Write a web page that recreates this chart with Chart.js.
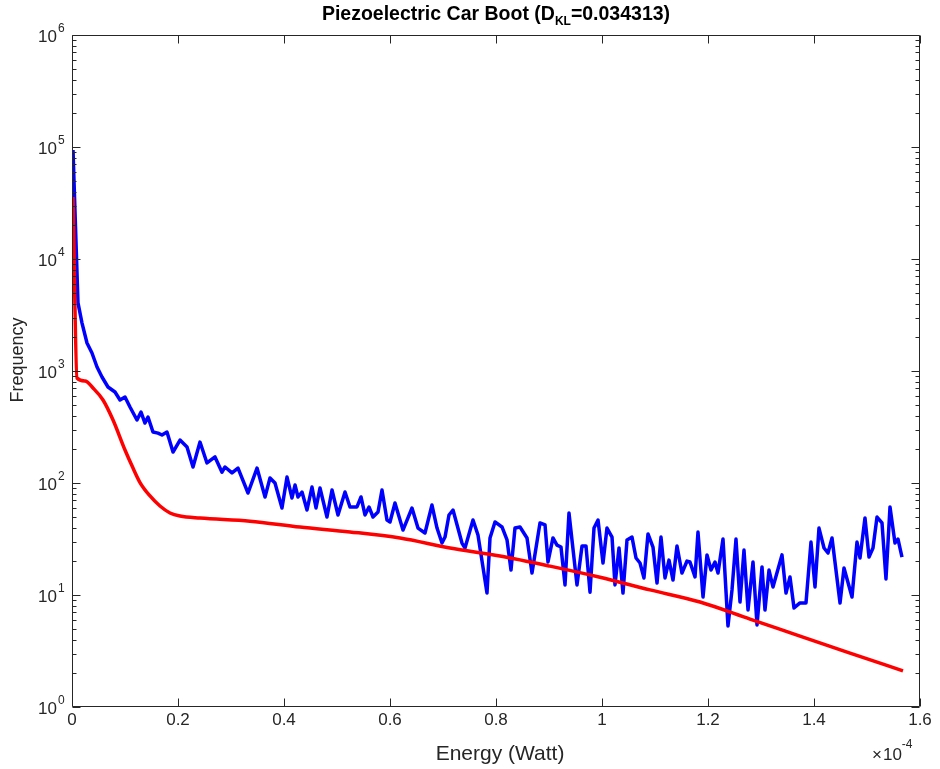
<!DOCTYPE html>
<html><head><meta charset="utf-8">
<script src="https://cdn.jsdelivr.net/npm/chart.js@4.4.1/dist/chart.umd.min.js"></script>
<style>html,body{margin:0;padding:0;background:#fff;}#wrap{width:940px;height:769px;position:relative;}</style>
</head><body><div id="wrap"><canvas id="c" width="940" height="769"></canvas></div>
<script>
// Energy in units of 1e-4 W
const blueX = [0.0019,0.0113,0.0189,0.0283,0.0377,0.0472,0.0566,0.0679,0.0811,0.0906,
0.1000,0.1094,0.1226,0.1302,0.1377,0.1434,0.1528,0.1623,0.1698,0.1792,
0.1906,0.2038,0.2170,0.2283,0.2415,0.2547,0.2698,0.2830,0.2887,0.3019,
0.3132,0.3321,0.3491,0.3642,0.3736,0.3830,0.3962,0.4057,0.4151,0.4208,
0.4264,0.4340,0.4434,0.4528,0.4604,0.4679,0.4811,0.4906,0.5019,0.5151,
0.5245,0.5377,0.5453,0.5528,0.5604,0.5679,0.5774,0.5849,0.5943,0.6000,
0.6094,0.6245,0.6415,0.6528,0.6660,0.6792,0.6887,0.6981,0.7038,0.7113,
0.7189,0.7358,0.7415,0.7566,0.7660,0.7830,0.7887,0.7981,0.8113,0.8208,
0.8283,0.8358,0.8453,0.8585,0.8679,0.8830,0.8925,0.8981,0.9075,0.9151,
0.9226,0.9302,0.9377,0.9528,0.9623,0.9698,0.9774,0.9849,0.9925,1.0019,
1.0094,1.0189,1.0245,1.0321,1.0396,1.0472,1.0566,1.0642,1.0717,1.0792,
1.0868,1.0962,1.1038,1.1113,1.1189,1.1264,1.1340,1.1415,1.1509,1.1604,
1.1660,1.1755,1.1811,1.1906,1.1981,1.2057,1.2132,1.2189,1.2283,1.2377,
1.2453,1.2528,1.2604,1.2679,1.2755,1.2849,1.2925,1.3019,1.3075,1.3151,
1.3226,1.3396,1.3472,1.3547,1.3623,1.3736,1.3849,1.3943,1.4019,1.4094,
1.4189,1.4264,1.4340,1.4491,1.4566,1.4717,1.4811,1.4868,1.4962,1.5038,
1.5113,1.5189,1.5283,1.5358,1.5434,1.5528,1.5585,1.5660];
const blueY = [94000,4050,2680,1778,1448,1086,884,720,649,551,
586,477,365,430,343,388,285,279,268,285,
189,242,210,139,232,151,171,125,139,123,
136,81.4,136,75.0,111,100,59.8,113,73.5,95.9,
75.0,83.1,57.4,92.1,59.8,90.2,49.7,86.6,51.8,83.1,
61.1,61.1,75.0,51.8,61.1,49.7,55.1,86.6,46.7,44.9,
66.3,38.0,59.8,39.6,35.8,63.6,39.6,29.1,32.9,51.8,
57.4,29.1,26.3,46.7,34.3,10.4,32.3,44.9,40.5,31.0,
16.7,39.6,40.5,32.3,15.7,44.0,42.2,19.7,32.3,27.9,
26.8,12.3,54.0,12.3,27.4,27.4,10.6,39.6,46.7,19.3,
39.6,32.9,12.3,26.3,10.4,31.0,32.9,21.4,19.3,14.2,
35.1,26.8,12.8,32.9,14.2,20.5,13.6,27.4,15.7,20.1,
19.7,14.5,36.5,9.6,22.8,16.7,19.7,15.7,31.6,5.29,
11.1,31.6,8.66,25.2,7.35,19.7,5.40,17.8,7.35,16.7,
11.8,22.8,10.4,14.5,7.66,8.49,8.49,29.7,11.8,39.6,
26.3,23.7,32.3,8.49,17.4,9.6,29.7,21.4,48.7,21.8,
26.3,49.7,44.0,13.9,61.1,29.1,31.6,21.8];
const redX = [0.0019,0.0094,0.0245,0.0396,0.0585,0.0774,0.1000,0.1151,0.1283,0.1472,
0.1660,0.1849,0.2038,0.2415,0.3358,0.4302,0.5245,0.6189,0.7132,0.8075,
0.9019,0.9962,1.0906,1.1849,1.2792,1.3736,1.4679,1.5679];
const redY = [35800,866,814,705,551,365,197,136,101,76.6,
62.3,54.0,50.7,48.6,45.6,40.4,36.6,32.3,26.3,22.3,
18.1,14.4,11.1,8.66,6.1,4.30,3.03,2.1];
const xTicks = [0,0.2,0.4,0.6,0.8,1.0,1.2,1.4,1.6];
const xTickLabels = ['0','0.2','0.4','0.6','0.8','1','1.2','1.4','1.6'];
const yDecades = [1,10,100,1000,10000,100000,1000000];
const yExponents = ['0','1','2','3','4','5','6'];

const FONT = '"Liberation Sans", Arial, Helvetica, sans-serif';
const AX = '#262626';

const bluePts = blueX.map((x,i)=>({x:x,y:blueY[i]}));
const redPts = redX.map((x,i)=>({x:x,y:redY[i]}));

const axesPlugin = {
  id:'matlabAxes',
  afterDraw(chart){
    const ctx = chart.ctx, a = chart.chartArea;
    const xs = chart.scales.x, ys = chart.scales.y;
    ctx.save();
    ctx.strokeStyle = AX; ctx.lineWidth = 1;
    const L = Math.round(a.left)+0.5, R = Math.round(a.right)-0.5, T = Math.round(a.top)+0.5, B = Math.round(a.bottom)-0.5;
    ctx.beginPath(); ctx.rect(L,T,R-L,B-T); ctx.stroke();
    ctx.beginPath();
    xTicks.forEach(v=>{
      const px = Math.round(xs.getPixelForValue(v))+0.5;
      ctx.moveTo(px,B); ctx.lineTo(px,B-8);
      ctx.moveTo(px,T); ctx.lineTo(px,T+8);
    });
    yDecades.forEach((d,i)=>{
      const py = Math.round(ys.getPixelForValue(d))+0.5;
      ctx.moveTo(L,py); ctx.lineTo(L+8,py);
      ctx.moveTo(R,py); ctx.lineTo(R-8,py);
      if(i<yDecades.length-1){
        for(let k=2;k<=9;k++){
          const pm = Math.round(ys.getPixelForValue(k*d))+0.5;
          ctx.moveTo(L,pm); ctx.lineTo(L+4,pm);
          ctx.moveTo(R,pm); ctx.lineTo(R-4,pm);
        }
      }
    });
    ctx.stroke();
    // x tick labels
    ctx.fillStyle = AX;
    ctx.font = '17px '+FONT;
    ctx.textAlign = 'center'; ctx.textBaseline = 'top';
    xTicks.forEach((v,i)=>{
      ctx.fillText(xTickLabels[i], xs.getPixelForValue(v), a.bottom+5);
    });
    // y tick labels 10^n
    yDecades.forEach((d,i)=>{
      const py = ys.getPixelForValue(d);
      ctx.font = '17px '+FONT; ctx.textAlign='right'; ctx.textBaseline='middle';
      ctx.fillText('10', a.left-15, py+2);
      ctx.font = '12px '+FONT; ctx.textAlign='left'; ctx.textBaseline='middle';
      ctx.fillText(yExponents[i], a.left-14, py-6);
    });
    // axis labels
    ctx.font = '21px '+FONT; ctx.textAlign='center'; ctx.textBaseline='alphabetic';
    ctx.fillText('Energy (Watt)', (a.left+a.right)/2 + 4, 760);
    ctx.save();
    ctx.font = '18px '+FONT;
    ctx.translate(23,360); ctx.rotate(-Math.PI/2);
    ctx.fillText('Frequency',0,0);
    ctx.restore();
    // exponent multiplier
    ctx.textAlign='left'; ctx.textBaseline='alphabetic';
    ctx.font = '17px '+FONT;
    let ex = 872;
    ctx.fillText('\u00d7', ex, 760); ex += ctx.measureText('\u00d7').width + 1;
    ctx.fillText('10', ex, 760); ex += ctx.measureText('10').width;
    ctx.font = '12px '+FONT;
    ctx.fillText('-4', ex, 748);
    // title with subscript
    ctx.fillStyle = '#000';
    const t1 = 'Piezoelectric Car Boot (D', t2 = 'KL', t3 = '=0.034313)';
    ctx.font = 'bold 19.5px '+FONT; const w1 = ctx.measureText(t1).width, w3 = ctx.measureText(t3).width;
    ctx.font = 'bold 12px '+FONT; const w2 = ctx.measureText(t2).width;
    let tx = (a.left+a.right)/2 - (w1+w2+w3)/2;
    ctx.font = 'bold 19.5px '+FONT; ctx.fillText(t1, tx, 20); tx += w1;
    ctx.font = 'bold 12px '+FONT; ctx.fillText(t2, tx, 25); tx += w2;
    ctx.font = 'bold 19.5px '+FONT; ctx.fillText(t3, tx, 20);
    ctx.restore();
  }
};

new Chart(document.getElementById('c'), {
  type:'scatter',
  data:{datasets:[
    {label:'Fit', data:redPts, showLine:true, borderColor:'#ff0000', borderWidth:3.5, pointRadius:0, fill:false, cubicInterpolationMode:'monotone', borderJoinStyle:'round', order:0},
    {label:'Data', data:bluePts, showLine:true, borderColor:'#0000ff', borderWidth:3.5, pointRadius:0, fill:false, tension:0, borderJoinStyle:'round', order:1}
  ]},
  options:{
    responsive:false, animation:false, devicePixelRatio:1,
    layout:{padding:{top:35,right:20,left:0,bottom:0}},
    plugins:{legend:{display:false}, tooltip:{enabled:false}, title:{display:false}},
    scales:{
      x:{type:'linear', min:0, max:1.6, grid:{display:false}, border:{display:false}, ticks:{display:false}, afterFit:s=>{s.height=62;}},
      y:{type:'logarithmic', min:1, max:1000000, grid:{display:false}, border:{display:false}, ticks:{display:false}, afterFit:s=>{s.width=72;}}
    }
  },
  plugins:[axesPlugin]
});
</script></body></html>
